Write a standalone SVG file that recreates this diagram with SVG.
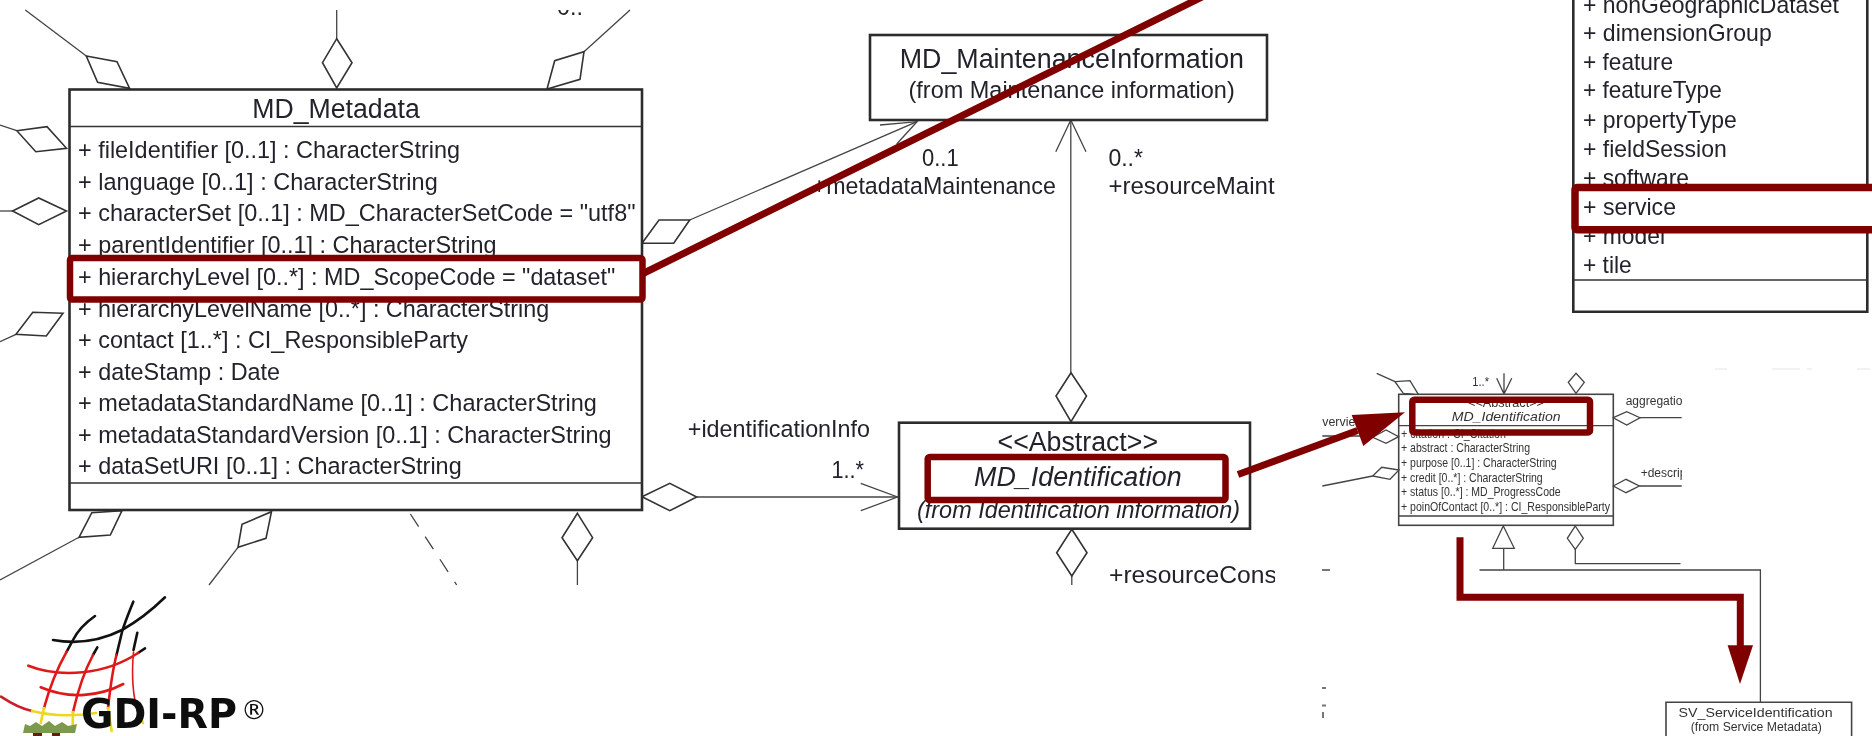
<svg xmlns="http://www.w3.org/2000/svg" width="1872" height="736" viewBox="0 0 1872 736">
<style>
text{font-family:"Liberation Sans",Arial,sans-serif;fill:#24242c;filter:url(#soft)}
.a{font-size:24.5px}.b{font-size:27px}.c{font-size:24px}.d{font-size:13px;fill:#333}.e{font-size:12px;fill:#333}.m{text-anchor:middle}.i{font-style:italic}
.box,.line,.dia,.arr{stroke:#333;fill:none;stroke-width:1.6;stroke-linejoin:miter}
.box{fill:#fff;stroke-width:2.6;stroke:#2c2c2c}
.dia{fill:#fff}
.thin .line,.thin .arr,.thin .dia{stroke-width:1.3;stroke:#444}
.hl{fill:#fff;stroke:#800000;stroke-width:6.5;stroke-linejoin:round}
.hn{fill:none;stroke:#800000;stroke-width:6.5;stroke-linejoin:round}
.red{fill:none;stroke:#800000;stroke-width:7}
.redf{fill:#800000}
.lg{fill:none;stroke-width:2.6;stroke-linecap:round}
.tick{fill:none;stroke:#777;stroke-width:2}
.faint{fill:none;stroke:#eee;stroke-width:1.5}
</style>
<defs>
<filter id="soft" filterUnits="userSpaceOnUse" x="0" y="0" width="1872" height="736"><feGaussianBlur stdDeviation="0.35"/></filter>
<clipPath id="cTop"><rect x="0" y="10" width="1872" height="726"/></clipPath>
<clipPath id="cMid"><rect x="0" y="0" width="1275" height="736"/></clipPath>
<clipPath id="cSmall"><rect x="1322" y="373" width="360" height="363"/></clipPath>
</defs>
<rect width="1872" height="736" fill="#fff"/>

<g id="connectors">
<g class="thin">
<path class="line" d="M25.3 10L86.3 56"/>
<path class="line" d="M336.7 10V38.7"/>
<path class="line" d="M630 10L584 51.7"/>
<path class="line" d="M0 125L16.8 130.7"/>
<path class="line" d="M0 211H12.6"/>
<path class="line" d="M0 341.7L16 334.3"/>
<path class="line" d="M0 580L79 537.3"/>
<path class="line" d="M209 585L238 547.3"/>
<path class="line" d="M410.4 514L456.7 585" stroke-dasharray="15 12"/>
<path class="line" d="M577.4 560.7V585"/>
<path class="line" d="M689.7 220L917 121.7"/>
<path class="arr" d="M880 125L917 121.7L896.7 144"/>
<path class="line" d="M1070.8 121V372.7"/>
<path class="arr" d="M1055.8 151.7L1070.8 120L1086 151.7"/>
<path class="line" d="M696.7 497H897.5"/>
<path class="arr" d="M860.8 483.3L897.5 497L860.8 510.7"/>
<path class="line" d="M1071.8 576V585"/>
</g>
<g>
<path class="dia" d="M86.3 56L117 61.7L129.6 88.3L97.6 82.3Z"/>
<path class="dia" d="M336.7 38.7L352 62.7L336.7 88L322.5 62.7Z"/>
<path class="dia" d="M584 51.7L580 79.3L547 89L554.7 60.7Z"/>
<path class="dia" d="M16.8 130.7L47 126.7L66.5 148.3L35.8 151.7Z"/>
<path class="dia" d="M12.6 211L38.7 198L66.5 211L38.7 224.7Z"/>
<path class="dia" d="M63 313.3L32.8 312.3L16 334.3L46.3 336Z"/>
<path class="dia" d="M122 510.7L110.3 535L79 537.3L91.8 512.7Z"/>
<path class="dia" d="M271.5 511.7L266 538.3L238 547.3L242 524.3Z"/>
<path class="dia" d="M577.4 513.3L592.6 537.7L577.4 560.7L562 537.7Z"/>
<path class="dia" d="M642 243.3L659 220H689.7L673.7 243.3Z"/>
<path class="dia" d="M642 496.7L669.8 483.3L696.7 497L669.8 510.7Z"/>
<path class="dia" d="M1071 372.7L1086.5 396L1071 421.7L1056 396Z"/>
<path class="dia" d="M1071.8 529.3L1087 552.7L1071.8 576L1056.7 552.7Z"/>
</g>
<g class="thin">
<path class="line" d="M1376.7 373.3L1395 381.7"/>
<path class="arr" d="M1504 373.3V394M1496.7 378.3L1504 394L1511.7 378.3"/>
<path class="line" d="M1640 417.7H1681.7M1639.3 486H1681.7"/>
<path class="line" d="M1322.3 436H1373M1322.3 486L1372.7 476"/>
<path class="line" d="M1503.7 548V570M1479.5 570H1760.4V702.3"/>
<path class="line" d="M1575.3 549V563.7H1680.5"/>
<path class="tick" d="M1322 570H1330M1322 688H1326M1322 705.5H1326M1323 712V718"/>
<path class="faint" d="M1715 369H1727M1772 369H1800M1807 369H1812M1857 369H1870"/>
</g>
</g>

<g id="md-metadata">
<rect class="box" x="69.5" y="89.5" width="572.5" height="420.5"/>
<path class="line" stroke-width="2.2" d="M69.5 126.5H642M69.5 483H642"/>
<text class="b m" x="336" y="118.3" textLength="167.5" lengthAdjust="spacingAndGlyphs">MD_Metadata</text>
<g class="a">
<text x="78" y="158" textLength="382" lengthAdjust="spacingAndGlyphs">+ fileIdentifier [0..1] : CharacterString</text>
<text x="78" y="190" textLength="359.7" lengthAdjust="spacingAndGlyphs">+ language [0..1] : CharacterString</text>
<text x="78" y="221" textLength="557.5" lengthAdjust="spacingAndGlyphs">+ characterSet [0..1] : MD_CharacterSetCode = "utf8"</text>
<text x="78" y="252.5" textLength="418.6" lengthAdjust="spacingAndGlyphs">+ parentIdentifier [0..1] : CharacterString</text>
<text x="78" y="316.5" textLength="471.2" lengthAdjust="spacingAndGlyphs">+ hierarchyLevelName [0..*] : CharacterString</text>
</g>
<rect class="hl" x="70" y="258" width="572.5" height="41.5" rx="2"/>
<g class="a">
<text x="78" y="284.5" textLength="537.3" lengthAdjust="spacingAndGlyphs">+ hierarchyLevel [0..*] : MD_ScopeCode = "dataset"</text>
<text x="78" y="348" textLength="390" lengthAdjust="spacingAndGlyphs">+ contact [1..*] : CI_ResponsibleParty</text>
<text x="78" y="379.5" textLength="202" lengthAdjust="spacingAndGlyphs">+ dateStamp : Date</text>
<text x="78" y="411" textLength="518.8" lengthAdjust="spacingAndGlyphs">+ metadataStandardName [0..1] : CharacterString</text>
<text x="78" y="442.5" textLength="533.5" lengthAdjust="spacingAndGlyphs">+ metadataStandardVersion [0..1] : CharacterString</text>
<text x="78" y="474" textLength="383.7" lengthAdjust="spacingAndGlyphs">+ dataSetURI [0..1] : CharacterString</text>
</g>
</g>

<g id="labels-main" class="a">
<g clip-path="url(#cTop)"><text x="557" y="15" textLength="26" lengthAdjust="spacingAndGlyphs">0..</text></g>
<text x="922" y="165.7" textLength="36.6" lengthAdjust="spacingAndGlyphs">0..1</text>
<text x="812.6" y="194" textLength="243.2" lengthAdjust="spacingAndGlyphs">+metadataMaintenance</text>
<text x="1108.4" y="165.7" textLength="34.6" lengthAdjust="spacingAndGlyphs">0..*</text>
<g clip-path="url(#cMid)">
<text x="1108.4" y="194" textLength="245" lengthAdjust="spacingAndGlyphs">+resourceMaintenance</text>
<text x="1109" y="582.7" textLength="235" lengthAdjust="spacingAndGlyphs">+resourceConstraints</text>
</g>
<text x="687.8" y="436.7" textLength="182.2" lengthAdjust="spacingAndGlyphs">+identificationInfo</text>
<text x="831.4" y="478" textLength="32.6" lengthAdjust="spacingAndGlyphs">1..*</text>
</g>

<g id="md-maintenance">
<rect class="box" x="870" y="35" width="397" height="85"/>
<text class="b" x="899.7" y="67.7" textLength="344.3" lengthAdjust="spacingAndGlyphs">MD_MaintenanceInformation</text>
<text class="a" x="908.5" y="98.3" textLength="326.2" lengthAdjust="spacingAndGlyphs">(from Maintenance information)</text>
</g>

<g id="md-identification">
<rect class="box" x="899" y="422.7" width="351" height="106"/>
<text class="b" x="997.6" y="450.7" textLength="160.4" lengthAdjust="spacingAndGlyphs">&lt;&lt;Abstract&gt;&gt;</text>
<text class="a i" x="917" y="518" textLength="323" lengthAdjust="spacingAndGlyphs">(from Identification information)</text>
<rect class="hl" x="927.7" y="457" width="297.8" height="43" rx="2"/>
<text class="b i" x="974" y="486" textLength="207.6" lengthAdjust="spacingAndGlyphs">MD_Identification</text>
</g>

<g id="scope-code">
<path class="box" d="M1573.3 0V311.7H1867.3V0"/>
<path class="line" stroke-width="2" d="M1573.3 280H1867.3"/>
<g class="c">
<text x="1583" y="13.3" textLength="256" lengthAdjust="spacingAndGlyphs">+ nonGeographicDataset</text>
<text x="1583" y="40.7" textLength="188.7" lengthAdjust="spacingAndGlyphs">+ dimensionGroup</text>
<text x="1583" y="70" textLength="90" lengthAdjust="spacingAndGlyphs">+ feature</text>
<text x="1583" y="98.3" textLength="138.7" lengthAdjust="spacingAndGlyphs">+ featureType</text>
<text x="1583" y="128.3" textLength="153.7" lengthAdjust="spacingAndGlyphs">+ propertyType</text>
<text x="1583" y="157.3" textLength="143.7" lengthAdjust="spacingAndGlyphs">+ fieldSession</text>
<text x="1583" y="185.7" textLength="106" lengthAdjust="spacingAndGlyphs">+ software</text>
<text x="1583" y="244.3" textLength="82" lengthAdjust="spacingAndGlyphs">+ model</text>
</g>
<rect class="hl" x="1575" y="187.5" width="310" height="42.2" rx="2" style="stroke-width:7.5"/>
<g class="c">
<text x="1583" y="215" textLength="93" lengthAdjust="spacingAndGlyphs">+ service</text>
<text x="1583" y="272.7" textLength="48.7" lengthAdjust="spacingAndGlyphs">+ tile</text>
</g>
</g>

<g id="md-identification-small">
<rect class="box" style="stroke-width:1.6;stroke:#444" x="1398.7" y="394.3" width="214.6" height="131"/>
<g class="thin"><path class="line" d="M1398.7 425.7H1613.3M1398.7 516H1613.3"/></g>
<text class="d" x="1468" y="406.7" textLength="76" lengthAdjust="spacingAndGlyphs">&lt;&lt;Abstract&gt;&gt;</text>
<text class="d" x="1401" y="437.7" textLength="105" lengthAdjust="spacingAndGlyphs">+ citation : CI_Citation</text>
<text class="d i" x="1451.7" y="421.3" textLength="109" lengthAdjust="spacingAndGlyphs">MD_Identification</text>
<text class="d" x="1401" y="452" textLength="129" lengthAdjust="spacingAndGlyphs">+ abstract : CharacterString</text>
<text class="d" x="1401" y="467" textLength="155.7" lengthAdjust="spacingAndGlyphs">+ purpose [0..1] : CharacterString</text>
<text class="d" x="1401" y="481.7" textLength="141.7" lengthAdjust="spacingAndGlyphs">+ credit [0..*] : CharacterString</text>
<text class="d" x="1401" y="496.3" textLength="159.7" lengthAdjust="spacingAndGlyphs">+ status [0..*] : MD_ProgressCode</text>
<text class="d" x="1401" y="511" textLength="209" lengthAdjust="spacingAndGlyphs">+ poinOfContact [0..*] : CI_ResponsibleParty</text>
<g class="thin">
<path class="dia" d="M1395 381.7L1410 380.7L1418.3 394.3L1403.3 393.3Z"/>
<path class="dia" d="M1576 373.3L1584.3 382.3L1576 393.3L1568.3 382.3Z"/>
<path class="dia" d="M1613.3 417.7L1626.7 411.7L1640 417.7L1626.7 425Z"/>
<path class="dia" d="M1613.3 486L1626 479.3L1639.3 486L1626 492.7Z"/>
<path class="dia" d="M1372.7 437.3L1386 430L1398.7 436.7L1386 443.3Z"/>
<path class="dia" d="M1372.7 476L1381.7 467.3L1399 470L1390 479.3Z"/>
<path class="dia" d="M1503.3 526L1514.3 548.3H1492.7Z"/>
<path class="dia" d="M1575.3 526L1583.3 538.3L1575.3 549.3L1567.3 538.3Z"/>
</g>
<text class="d" x="1472.3" y="386" textLength="16.7" lengthAdjust="spacingAndGlyphs">1..*</text>
<g clip-path="url(#cSmall)">
<text class="e" x="1625.7" y="405">aggregationInfo</text>
<text class="e" x="1640.7" y="477.3">+descriptiveKeywords</text>
</g>
<text class="d" x="1322.3" y="426" textLength="33" lengthAdjust="spacingAndGlyphs">vervie</text>
</g>

<g id="sv-service-identification">
<path class="box" style="stroke-width:1.6;stroke:#444" d="M1666 736V702.3H1851.6V736"/>
<text class="d m" x="1755.6" y="716.7" textLength="154" lengthAdjust="spacingAndGlyphs">SV_ServiceIdentification</text>
<text class="d m" x="1756.3" y="730.7" textLength="131" lengthAdjust="spacingAndGlyphs" style="font-size:12.5px">(from Service Metadata)</text>
</g>

<g id="gdi-rp-logo">
<path class="lg" stroke="#111" d="M53 640C75 644 100 641 122 630C140 620 152 610 165 597.3"/>
<path class="lg" stroke="#111" d="M95 616C85 623 77 632 73 640L66.7 651.7"/>
<path class="lg" stroke="#111" d="M133.3 601.7C128 615 125 622 122 632L116.5 655"/>
<path class="lg" stroke="#111" d="M137.3 632.7L133.5 650"/>
<path class="lg" stroke="#111" d="M145 648.3L138 653"/>
<path class="lg" stroke="#111" d="M97.3 647.3L93 655"/>
<path class="lg" stroke="#e01818" d="M66.7 651.7C58 667 50 686 44 708"/>
<path class="lg" stroke="#e01818" d="M116.5 655C112 672 110 690 108 708"/>
<path class="lg" stroke="#e01818" style="stroke-width:1.6" d="M133.5 652C131 680 134 700 138 713"/>
<path class="lg" stroke="#e01818" d="M93 655C85 670 78 690 73 712"/>
<path class="lg" stroke="#e01818" d="M28.3 665.7C60 678 105 675 138 653"/>
<path class="lg" stroke="#e01818" d="M40.7 687.3C70 700 100 696 123.3 684"/>
<path class="lg" stroke="#c8202a" d="M1 696.7C12 704 22 709 32 711"/>
<path class="lg" stroke="#ecd81c" d="M32 711C55 717 75 716 96 713"/>
<path class="lg" stroke="#ecd81c" d="M44 708L40.7 723M73 712L72.7 725M108 708L111.7 731M138 713L143 723"/>
<path fill="#7c9a4e" d="M23 733L25 724L30 726L36 722L42 726L49 721L55 726L62 722L68 726L77 724L75 733Z"/>
<path fill="#6a1a1a" d="M33 733H42V736H33ZM52 733H60V736H52Z"/>
<text x="81" y="728.3" textLength="156" lengthAdjust="spacingAndGlyphs" style="font-family:'DejaVu Sans',sans-serif;font-weight:700;font-size:40px;fill:#111">GDI-RP</text>
<text x="241" y="719" style="font-family:'DejaVu Sans',sans-serif;font-size:26px;fill:#111">®</text>
</g>

<g id="annotations">
<path class="red" d="M642 274L1204 -4"/>
<path class="red" d="M1238 474.5L1357.5 430.5"/>
<path class="redf" d="M1405 412.3L1351.7 415L1363.3 446Z"/>
<rect class="hn" x="1412.3" y="399.7" width="177.7" height="32.7" rx="2"/>
<path class="red" d="M1460 537.3V597.3H1740.3V646"/>
<path class="redf" d="M1727.6 645.3H1753L1740 684Z"/>
</g>
</svg>
